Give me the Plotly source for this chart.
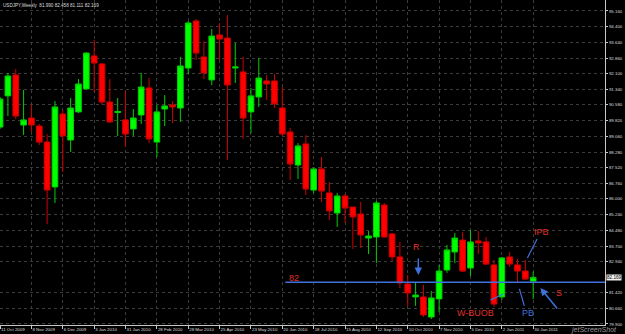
import plotly.graph_objects as go

# Weekly USDJPY candles, 11 Oct 2009 .. 30 Jan 2011 (index 0..68)
opens = [89.50, 91.02, 92.04, 89.60, 89.94, 89.55, 88.77, 86.58, 90.14, 88.87,
         90.24, 91.36, 92.97, 92.58, 90.72, 90.21, 89.85, 89.41, 90.09, 91.41,
         88.77, 90.38, 90.58, 90.43, 92.38, 94.67, 92.92, 91.80, 93.99, 93.84,
         92.38, 92.19, 90.24, 90.97, 91.75, 91.75, 90.43, 89.26, 87.65, 88.68,
         86.43, 87.46, 86.29, 85.31, 86.14, 85.60, 85.26, 84.09, 84.14, 85.70,
         84.29, 83.17, 81.85, 81.22, 81.22, 80.24, 81.12, 82.53, 83.41, 83.99,
         82.63, 83.95, 83.90, 82.78, 81.22, 83.17, 82.78, 82.48, 81.990]
highs = [90.97, 92.14, 92.33, 91.31, 90.58, 89.65, 89.16, 90.77, 90.33, 90.92,
         91.84, 93.15, 93.75, 92.62, 91.84, 90.92, 91.26, 90.38, 92.14, 91.89,
         90.58, 91.06, 90.77, 92.92, 94.67, 94.77, 93.70, 94.28, 94.575, 94.965,
         93.60, 92.92, 91.41, 92.87, 92.04, 92.09, 91.45, 89.46, 88.72, 89.11,
         87.51, 88.04, 86.82, 86.29, 86.24, 85.60, 85.85, 84.43, 85.90, 85.80,
         84.34, 83.90, 82.29, 81.90, 81.80, 81.51, 82.78, 83.75, 84.34, 84.38,
         84.48, 84.43, 84.14, 83.02, 83.17, 83.41, 83.07, 83.02, 82.458]
lows = [89.41, 90.04, 89.89, 89.11, 89.26, 88.63, 84.77, 85.80, 87.31, 88.29,
        90.19, 91.33, 91.21, 90.58, 89.70, 89.07, 88.53, 89.07, 89.65, 88.72,
        88.04, 89.55, 89.70, 89.75, 92.09, 92.77, 91.84, 91.55, 92.77, 87.90,
        91.65, 88.92, 89.21, 90.48, 90.82, 90.43, 89.07, 86.92, 86.97, 86.19,
        86.29, 85.85, 84.97, 84.63, 84.82, 83.56, 83.60, 83.31, 82.87, 84.09,
        82.97, 81.65, 80.78, 80.78, 80.24, 80.14, 80.48, 82.39, 82.87, 82.43,
        82.24, 83.31, 82.78, 80.73, 81.07, 82.68, 81.90, 82.04, 81.111]
closes = [90.87, 91.99, 90.04, 89.85, 89.60, 88.77, 86.43, 90.48, 89.07, 90.43,
          91.60, 93.11, 92.62, 90.72, 89.75, 90.26, 89.16, 89.94, 91.45, 88.92,
          90.24, 90.53, 90.48, 92.48, 94.575, 93.11, 92.14, 93.94, 93.79, 91.55,
          92.43, 89.94, 91.02, 91.89, 91.60, 90.63, 89.16, 87.70, 88.58, 86.48,
          87.46, 86.38, 85.41, 86.14, 85.55, 85.12, 84.24, 84.19, 85.80, 84.14,
          83.17, 81.90, 81.41, 81.31, 80.34, 81.17, 82.48, 83.51, 84.09, 82.48,
          83.90, 83.85, 82.82, 80.87, 83.12, 82.82, 82.48, 82.09, 82.169]

date_tick_pos = [0, 4, 8, 12, 16, 20, 24, 28, 32, 36, 40, 44, 48, 52, 56, 60, 64, 68]
date_tick_labels = ["11 Oct 2009", "8 Nov 2009", "6 Dec 2009", "3 Jan 2010", "31 Jan 2010",
                    "28 Feb 2010", "28 Mar 2010", "25 Apr 2010", "23 May 2010", "20 Jun 2010",
                    "18 Jul 2010", "15 Aug 2010", "12 Sep 2010", "10 Oct 2010", "7 Nov 2010",
                    "5 Dec 2010", "2 Jan 2011", "30 Jan 2011"]
price_ticks = [95.160, 94.400, 93.640, 92.860, 92.100, 91.340, 90.580, 89.820, 89.060,
               88.280, 87.520, 86.760, 86.000, 85.240, 84.480, 83.700, 82.940, 81.420,
               80.660, 79.900]
level_82 = 81.93
last_price = 82.169

x = list(range(len(opens)))
RED_TXT = "#e0302a"
BLUE = "#3f72dd"
FONT = "Liberation Sans"

fig = go.Figure(go.Candlestick(
    x=x, open=opens, high=highs, low=lows, close=closes,
    increasing=dict(line=dict(color="#00d000", width=1), fillcolor="#00ff00"),
    decreasing=dict(line=dict(color="#d00000", width=1), fillcolor="#ff0000"),
    whiskerwidth=0, showlegend=False, hoverinfo="skip"))

fig.update_layout(
    width=625, height=334, margin=dict(l=0, r=20, t=0, b=9),
    paper_bgcolor="black", plot_bgcolor="black",
    boxgap=0.15, boxgroupgap=0.15,
    font=dict(family=FONT, color="#dcdcdc", size=4.4),
    xaxis=dict(range=[-0.01, 77.16], rangeslider=dict(visible=False),
               tickmode="array", tickvals=date_tick_pos, ticktext=date_tick_labels,
               tickangle=0,
               ticks="outside", ticklen=3, tickcolor="#c8c8c8",
               showline=True, linecolor="#c8c8c8", linewidth=1,
               showgrid=True, gridcolor="#3c3c3c", griddash="dot", gridwidth=1,
               ticklabelposition="outside right", zeroline=False,
               tickfont=dict(size=4.4, color="#dcdcdc")),
    yaxis=dict(range=[79.85, 95.696], side="right",
               tickmode="array", tickvals=price_ticks,
               ticktext=["%.3f" % v for v in price_ticks],
               ticks="outside", ticklen=2, tickcolor="#c8c8c8",
               showline=True, linecolor="#c8c8c8", linewidth=1, mirror=False,
               showgrid=True, gridcolor="#3c3c3c", griddash="dot", gridwidth=1,
               zeroline=False, tickfont=dict(size=4.4, color="#dcdcdc")),
)

# horizontal 82 level line
fig.add_shape(type="line", xref="x", yref="y", x0=36.39, x1=77.16, y0=level_82, y1=level_82,
              line=dict(color=BLUE, width=1.5))

# pointer lines
for (xa, ya, xb, yb) in [(68.5, 84.04, 67.26, 83.12),   # IPB
                         (62.54, 81.07, 64.2, 81.36),   # W-BUOB
                         (66.24, 81.61, 66.87, 80.78)]: # PB
    fig.add_shape(type="line", xref="x", yref="y", x0=xa, y0=ya, x1=xb, y1=yb,
                  line=dict(color=BLUE, width=1.2))

def txt(xv, yv, s, color, size=9):
    fig.add_annotation(x=xv, y=yv, xref="x", yref="y", text=s, showarrow=False,
                       font=dict(family=FONT, size=size, color=color))

txt(37.54, 82.14, "82", RED_TXT)
txt(53.1, 83.65, "R", RED_TXT)
txt(69.04, 84.38, "IPB", RED_TXT)
txt(60.63, 80.44, "W-BUOB", RED_TXT)
txt(67.38, 80.44, "PB", BLUE)
txt(71.34, 81.41, "S", RED_TXT)

# arrows
fig.add_annotation(x=53.35, y=82.29, xref="x", yref="y", ax=0, ay=-18, text="",
                   showarrow=True, arrowhead=2, arrowsize=1, arrowwidth=1.5, arrowcolor=BLUE)
fig.add_annotation(x=68.92, y=81.65, xref="x", yref="y", ax=18, ay=22, text="",
                   showarrow=True, arrowhead=2, arrowsize=1, arrowwidth=1.5, arrowcolor=BLUE)

# title
fig.add_annotation(x=0, y=1, xref="paper", yref="paper", xanchor="left", yanchor="top",
                   xshift=1, yshift=-1, showarrow=False,
                   text="USDJPY,Weekly  81.990 82.458 81.111 82.169",
                   font=dict(family=FONT, size=4.6, color="#dcdcdc"))

# current price box
fig.add_annotation(x=1, y=last_price, xref="paper", yref="y", xanchor="left", xshift=1,
                   showarrow=False, text="%.3f" % last_price, bgcolor="#f0f0f0",
                   borderpad=0, font=dict(family=FONT, size=4.6, color="#000000"))

# watermark
fig.add_annotation(x=1, y=0, xref="paper", yref="paper", xanchor="right", yanchor="top",
                   xshift=14, yshift=1, showarrow=False, text="<i>jetScreenShot</i>",
                   font=dict(family=FONT, size=7, color="#9a9a9a"))

fig.write_html("out.html")
